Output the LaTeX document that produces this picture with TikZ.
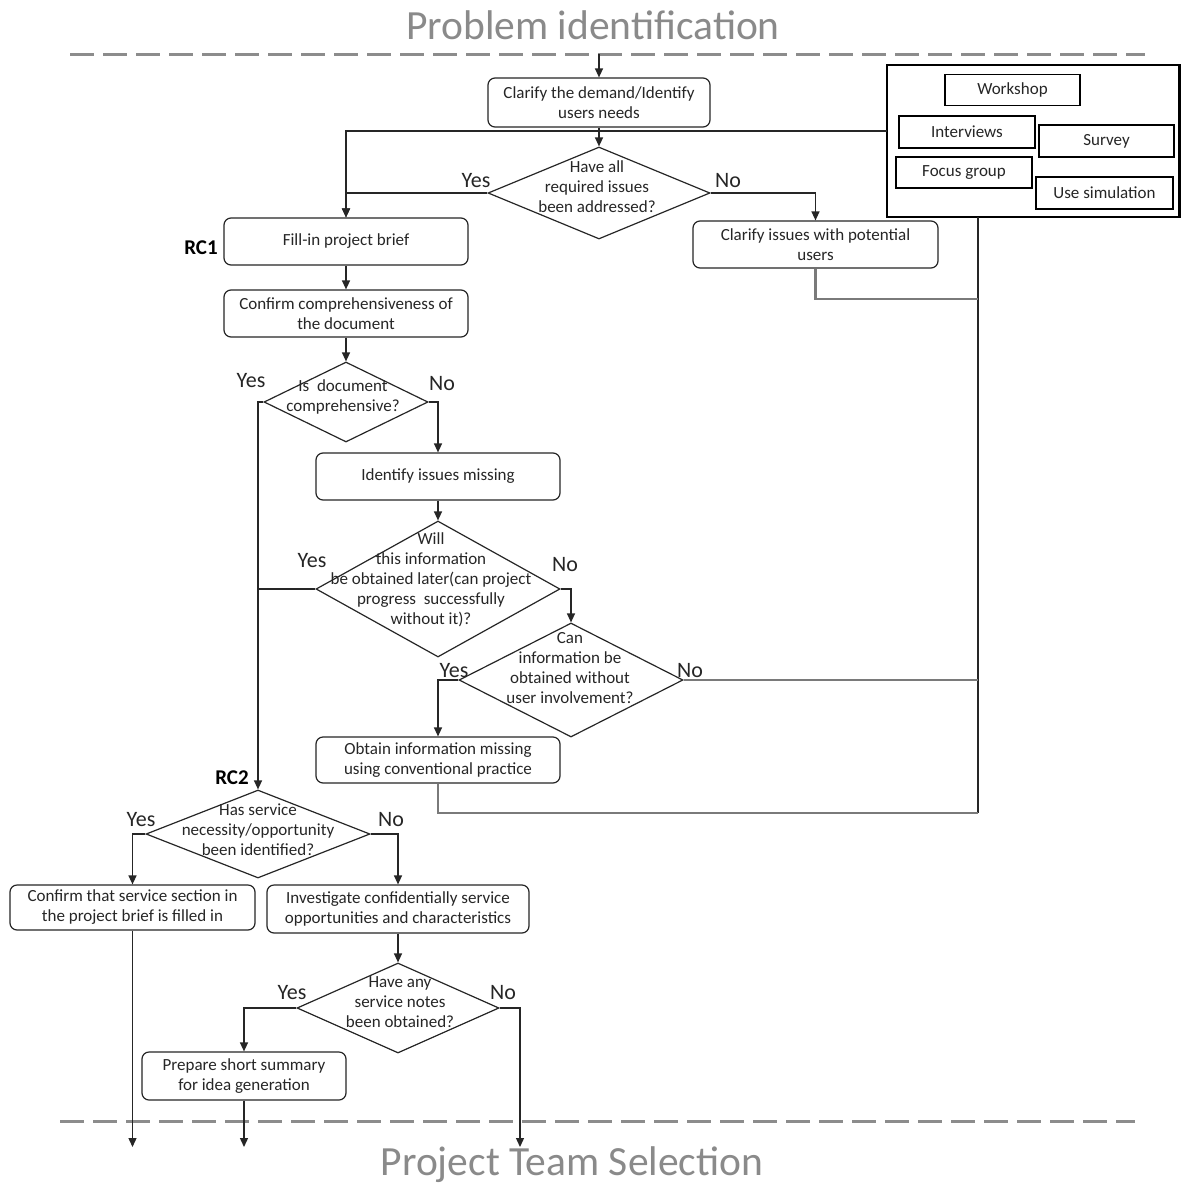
\documentclass[tikz,border=0pt]{standalone}
\usepackage{fontspec}
\setmainfont{Carlito}
\usetikzlibrary{shapes.geometric,arrows.meta}

\definecolor{ink}{HTML}{262626}
\definecolor{titlegray}{HTML}{8A8A8A}
\definecolor{dashgray}{HTML}{8C8C8C}
\definecolor{linkgray}{HTML}{7A7A7A}

\newcommand\boxfont{\fontsize{17}{20}\selectfont}
% centred multi-line text of zero size, so a diamond keeps its set size
% #1 raise, #2 horizontal shift, #3 lines
\newcommand\dtext[3]{\makebox[0pt]{\kern#2\smash{\raisebox{#1}{\begin{tabular}{@{}c@{}}#3\end{tabular}}}\kern-#2}}

\tikzset{
  proc/.style={draw=ink, line width=1.2pt, rounded corners=7pt, inner sep=0pt,
    align=center, font=\boxfont, text=ink, minimum width=244pt, minimum height=47pt},
  dec/.style={draw=ink, line width=1.2pt, diamond, inner sep=0pt, font=\boxfont, text=ink},
  method/.style={draw=black, line width=1.1pt, inner sep=0pt, font=\boxfont, text=ink,
    minimum width=136pt, minimum height=31pt},
  answer/.style={font=\fontsize{22}{26}\selectfont, inner sep=0pt, text=ink},
  rc/.style={font=\bfseries\fontsize{21}{24}\selectfont, inner sep=0pt, text=black},
  flow/.style={draw=ink, line width=1.3pt},
  arr/.style={flow, -{Triangle[length=9pt,width=8pt]}},
  feed/.style={draw=linkgray, line width=2.4pt},
  feedmain/.style={draw=black!85, line width=2.6pt},
  phase/.style={draw=dashgray, line width=3pt, dash pattern=on 24pt off 9pt},
  title/.style={font=\fontsize{41.5}{48}\selectfont, text=titlegray, inner sep=0pt, anchor=base},
}

\begin{document}
\begin{tikzpicture}[x=1pt,y=-1pt]
\useasboundingbox (0,0) rectangle (1182,1184);
\fill[white] (0,0) rectangle (1182,1184);

% phase titles and separators
\node[title] (t1) at (593,39) {Problem identification};
\node[title] (t2) at (572,1175) {Project Team Selection};
\coordinate (p1a) at (70,54);   \coordinate (p1b) at (1145,54);
\coordinate (p2a) at (60,1121); \coordinate (p2b) at (1135,1121);
\draw[phase] (p1a) -- (p1b);
\draw[phase] (p2a) -- (p2b);

% process boxes
\node[proc, minimum width=222pt, minimum height=49pt] (a) at (599,102.5) {Clarify the demand/Identify\\users needs};
\node[proc] (b) at (346,241.5) {Fill-in project brief};
\node[proc, minimum width=245pt] (c) at (815.5,244.5) {Clarify issues with potential\\users};
\node[proc] (e) at (346,313.5) {Confirm comprehensiveness of\\the document};
\node[proc] (f) at (438,476.5) {Identify issues missing};
\node[proc, minimum height=46pt] (g) at (438,760) {Obtain information missing\\using conventional practice};
\node[proc, minimum width=245pt, minimum height=45pt] (h) at (132.5,907.5) {Confirm that service section in\\the project brief is filled in};
\node[proc, minimum width=262pt, minimum height=48pt] (i) at (398,909) {Investigate confidentially service\\opportunities and characteristics};
\node[proc, minimum width=204pt, minimum height=48pt] (j) at (244,1076) {Prepare short summary\\for idea generation};

% decisions
\node[dec, minimum width=222pt, minimum height=92pt] (d1) at (599,193)
  {\dtext{0pt}{-2pt}{Have all\\required issues\\been addressed?}};
\node[dec, minimum width=164pt, minimum height=80pt] (d2) at (346,402)
  {\dtext{0pt}{-3pt}{Is\ \ document\\comprehensive?}};
\node[dec, minimum width=244pt, minimum height=136pt] (d3) at (438,589)
  {\dtext{4.5pt}{-7pt}{Will\\this information\\be obtained later(can project\\progress\ \ successfully\\without it)?}};
\node[dec, minimum width=224pt, minimum height=114pt] (d4) at (571,680)
  {\dtext{6pt}{-1pt}{Can\\information be\\obtained without\\user involvement?}};
\node[dec, minimum width=224pt, minimum height=88pt] (d5) at (258,834)
  {\dtext{-2pt}{0pt}{Has service\\necessity/opportunity\\been identified?}};
\node[dec, minimum width=202pt, minimum height=90pt] (d6) at (398,1008)
  {\dtext{0pt}{2pt}{Have any\\service notes\\been obtained?}};

% user involvement methods
\node[draw=black, line width=2.8pt, minimum width=292.5pt, minimum height=152pt, inner sep=0pt] (m) at (1033.25,141) {};
\node[method, minimum width=135pt] (m1) at (1012.5,90) {Workshop};
\node[method, minimum height=32pt] (m2) at (967,132) {Interviews};
\node[method, minimum width=135pt, minimum height=32pt] (m3) at (1106.5,141) {Survey};
\node[method] (m4) at (964,172.5) {Focus group};
\node[method, minimum width=137pt, minimum height=32pt] (m5) at (1104.5,193) {Use simulation};

% answers and reference labels
\node[answer] (y1) at (476,181) {Yes};  \node[answer] (n1) at (728,181) {No};
\node[answer] (y2) at (251,381) {Yes};  \node[answer] (n2) at (442,384) {No};
\node[answer] (y3) at (312,561) {Yes};  \node[answer] (n3) at (565,565) {No};
\node[answer] (y4) at (454,671) {Yes};  \node[answer] (n4) at (690,671) {No};
\node[answer] (y5) at (141,820) {Yes};  \node[answer] (n5) at (391,820) {No};
\node[answer] (y6) at (292,993) {Yes};  \node[answer] (n6) at (503,993) {No};
\node[rc] (rc1) at (201,248) {RC1};
\node[rc] (rc2) at (232,778) {RC2};

% free ends and junctions
\coordinate (s)  at (599,54);
\coordinate (mw) at (887,131);
\coordinate (mb) at (978,217);
\coordinate (f1) at (978,299);
\coordinate (f2) at (978,680);
\coordinate (fb) at (978,813);
\coordinate (e1) at (132.5,1147);
\coordinate (e2) at (244,1147);
\coordinate (e3) at (520,1147);

% feedback into the methods box
\draw[feedmain] (mb) -- (fb);
\draw[feed] (c.south) |- (f1);
\draw[feed] (d4.east) -- (f2);
\draw[feed] (g.south) |- (fb);

% main flow
\draw[arr] (s) -- (a.north);
\draw[arr] (a.south) -- (d1.north);
\draw[arr] (mw) -| (b.north);
\draw[arr] (d1.west) -| (b.north);
\draw[arr] (d1.east) -| (c.north);
\draw[arr] (b.south) -- (e.north);
\draw[arr] (e.south) -- (d2.north);
\draw[arr] (d2.east) -| (f.north);
\draw[arr] (d2.west) -| (d5.north);
\draw[arr] (f.south) -- (d3.north);
\draw[flow] (d3.west) -- (d3.west -| d5.north);
\draw[arr] (d3.east) -| (d4.north);
\draw[arr] (d4.west) -| (g.north);
\draw[arr] (d5.west) -| (h.north);
\draw[arr] (d5.east) -| (i.north);
\draw[arr] (i.south) -- (d6.north);
\draw[arr] (d6.west) -| (j.north);
\draw[arr] (d6.east) -| (e3);
\draw[arr] (h.south) -- (e1);
\draw[arr] (j.south) -- (e2);
\end{tikzpicture}
\end{document}
